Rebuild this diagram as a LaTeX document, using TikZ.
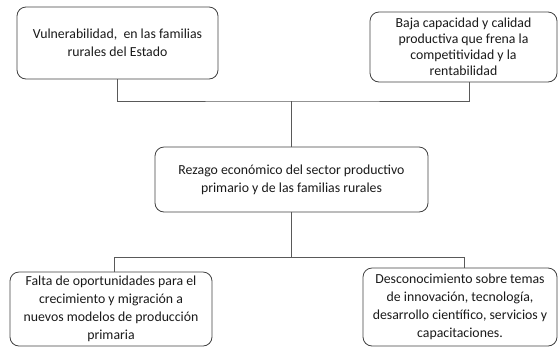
\documentclass[tikz,border=0pt]{standalone}
\usepackage{fontspec}
\setmainfont{Carlito}
\begin{document}
\begin{tikzpicture}[x=1pt,y=-1pt,
  box/.style={draw=black!75,line width=0.8pt,rounded corners=9pt,align=center,
    inner sep=0pt,font=\fontsize{13.8}{18}\selectfont,text=black!90},
  conn/.style={draw=black!65,line width=0.7pt}]
\useasboundingbox (0,0) rectangle (559,349);
\node[box,minimum width=201pt,minimum height=72pt] (b1) at (117.5,43)
  {Vulnerabilidad,~ en las familias\\rurales del Estado};
\node[box,minimum width=187pt,minimum height=70pt,font=\fontsize{13.8}{16}\selectfont] (b2) at (463.5,47)
  {Baja capacidad y calidad\\productiva que frena la\\competitividad y la\\rentabilidad};
\node[box,minimum width=273pt,minimum height=65pt] (c) at (291.5,179.5)
  {Rezago económico del sector productivo\\primario y de las familias rurales};
\node[box,minimum width=202pt,minimum height=74pt] (b3) at (111,309)
  {Falta de oportunidades para el\\crecimiento y migración a\\nuevos modelos de producción\\primaria};
\node[box,minimum width=194pt,minimum height=78pt] (b4) at (460,307)
  {Desconocimiento sobre temas\\de innovación, tecnología,\\desarrollo científico, servicios y\\capacitaciones.};
\coordinate (j1) at (291.5,101);
\coordinate (j2) at (291.5,257);
\draw[conn] (b1.south) |- (j1) -| ([xshift=6pt]b2.south);
\draw[conn] (j1) -- (c.north);
\draw[conn] (c.south) -- (j2);
\draw[conn] (j2) -| ([xshift=3pt]b3.north);
\draw[conn] (j2) -| ([xshift=4pt]b4.north);
\end{tikzpicture}
\end{document}
